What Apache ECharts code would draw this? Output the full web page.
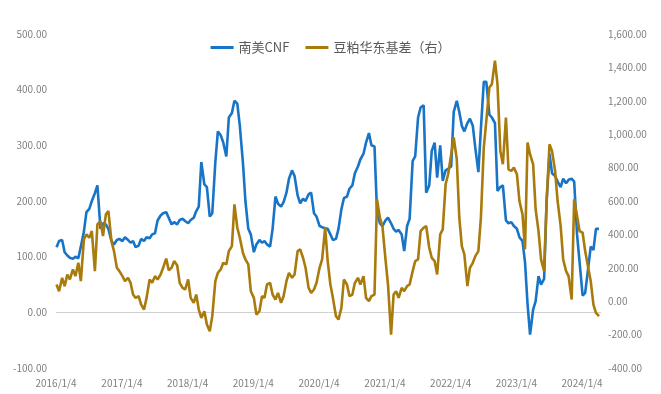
<!DOCTYPE html>
<html>
<head>
<meta charset="utf-8">
<script src="https://cdn.jsdelivr.net/npm/echarts@6/dist/echarts.min.js"></script>
<style>html,body{margin:0;padding:0;background:#fff;}#c{width:661px;height:394px;}</style>
</head>
<body>
<div id="c"></div>
<script>
var seriesNames = ['南美CNF', '豆粕华东基差（右）'];
var xTickLabels = ['2016/1/4','2017/1/4','2018/1/4','2019/1/4','2020/1/4','2021/1/4','2022/1/4','2023/1/4','2024/1/4'];
var dates = [
'2016-01-04','2016-01-18','2016-02-04','2016-02-18','2016-03-04','2016-03-18','2016-04-04','2016-04-18','2016-05-04','2016-05-18','2016-06-04','2016-06-18','2016-07-04','2016-07-18','2016-08-04','2016-08-18','2016-09-04','2016-09-18','2016-10-04','2016-10-18','2016-11-04','2016-11-18','2016-12-04','2016-12-18',
'2017-01-04','2017-01-18','2017-02-04','2017-02-18','2017-03-04','2017-03-18','2017-04-04','2017-04-18','2017-05-04','2017-05-18','2017-06-04','2017-06-18','2017-07-04','2017-07-18','2017-08-04','2017-08-18','2017-09-04','2017-09-18','2017-10-04','2017-10-18','2017-11-04','2017-11-18','2017-12-04','2017-12-18',
'2018-01-04','2018-01-18','2018-02-04','2018-02-18','2018-03-04','2018-03-18','2018-04-04','2018-04-18','2018-05-04','2018-05-18','2018-06-04','2018-06-18','2018-07-04','2018-07-18','2018-08-04','2018-08-18','2018-09-04','2018-09-18','2018-10-04','2018-10-18','2018-11-04','2018-11-18','2018-12-04','2018-12-18',
'2019-01-04','2019-01-18','2019-02-04','2019-02-18','2019-03-04','2019-03-18','2019-04-04','2019-04-18','2019-05-04','2019-05-18','2019-06-04','2019-06-18','2019-07-04','2019-07-18','2019-08-04','2019-08-18','2019-09-04','2019-09-18','2019-10-04','2019-10-18','2019-11-04','2019-11-18','2019-12-04','2019-12-18',
'2020-01-04','2020-01-18','2020-02-04','2020-02-18','2020-03-04','2020-03-18','2020-04-04','2020-04-18','2020-05-04','2020-05-18','2020-06-04','2020-06-18','2020-07-04','2020-07-18','2020-08-04','2020-08-18','2020-09-04','2020-09-18','2020-10-04','2020-10-18','2020-11-04','2020-11-18','2020-12-04','2020-12-18',
'2021-01-04','2021-01-18','2021-02-04','2021-02-18','2021-03-04','2021-03-18','2021-04-04','2021-04-18','2021-05-04','2021-05-18','2021-06-04','2021-06-18','2021-07-04','2021-07-18','2021-08-04','2021-08-18','2021-09-04','2021-09-18','2021-10-04','2021-10-18','2021-11-04','2021-11-18','2021-12-04','2021-12-18',
'2022-01-04','2022-01-18','2022-02-04','2022-02-18','2022-03-04','2022-03-18','2022-04-04','2022-04-18','2022-05-04','2022-05-18','2022-06-04','2022-06-18','2022-07-04','2022-07-18','2022-08-04','2022-08-18','2022-09-04','2022-09-18','2022-10-04','2022-10-18','2022-11-04','2022-11-18','2022-12-04','2022-12-18',
'2023-01-04','2023-01-18','2023-02-04','2023-02-18','2023-03-04','2023-03-18','2023-04-04','2023-04-18','2023-05-04','2023-05-18','2023-06-04','2023-06-18','2023-07-04','2023-07-18','2023-08-04','2023-08-18','2023-09-04','2023-09-18','2023-10-04','2023-10-18','2023-11-04','2023-11-18','2023-12-04','2023-12-18',
'2024-01-04','2024-01-18','2024-02-04','2024-02-18','2024-03-04','2024-03-18','2024-04-04'
];
var cnf = [117,128,130,108,102,98,96,100,97,118,
145,180,186,200,214,228,150,160,158,150,
128,122,130,132,128,135,130,125,128,117,
120,132,128,135,133,140,142,165,174,178,
180,170,158,162,158,166,168,164,160,166,
170,182,190,270,230,225,172,178,270,325,
318,305,280,350,358,380,375,335,270,200,
150,140,108,122,130,125,128,122,118,150,
208,195,190,198,215,240,255,245,210,196,
204,200,212,215,178,172,155,153,151,150,
140,130,132,150,185,205,208,222,228,250,
262,275,285,305,322,300,298,180,160,155,
165,170,160,150,145,148,140,110,155,168,
272,280,350,368,372,215,228,290,305,242,
300,236,255,258,262,360,380,360,335,325,
340,348,335,295,252,330,414,414,355,350,
340,218,225,228,165,160,162,155,150,135,
128,90,15,-40,5,20,65,50,60,200,
285,250,245,235,225,240,232,238,240,235,
140,90,30,35,80,118,112,150,150];
var basis = [100,60,140,90,160,130,190,150,230,120,
370,400,380,420,180,460,480,390,520,540,
360,300,200,180,150,120,140,110,40,20,
30,-20,-50,20,130,110,150,130,160,200,
255,185,200,240,215,110,80,70,130,20,
-10,40,-50,-100,-60,-140,-180,-90,120,170,
190,230,220,300,330,580,440,380,290,250,
220,60,20,-80,-60,30,20,100,110,40,
10,50,-10,30,120,170,140,160,300,310,
260,200,80,50,70,110,200,250,440,240,
100,20,-90,-110,-40,130,100,30,40,110,
140,100,150,20,0,30,40,610,500,450,
250,100,-200,40,60,20,80,60,90,100,
180,240,250,420,440,450,320,260,240,160,
400,430,700,760,880,980,850,500,330,280,
90,200,230,270,300,500,920,1080,1280,1300,
1440,1300,900,820,1100,790,780,800,760,600,
520,310,950,880,820,550,420,250,180,600,
940,900,780,600,450,250,180,150,10,610,
510,420,410,300,200,120,-20,-70,-90];

function pairs(vals) {
  var out = [];
  for (var i = 0; i < vals.length; i++) out.push([dates[i], vals[i]]);
  return out;
}
function fmtThousands(v) {
  var neg = v < 0, n = Math.abs(v);
  var s = Math.round(n).toString().replace(/\B(?=(\d{3})+(?!\d))/g, ',');
  return (neg ? '-' : '') + s + '.00';
}
var YEAR = 365 * 24 * 3600 * 1000;
var xMin = '2016-01-01', xMax = '2024-04-15';
var labelFont = { color: '#7f7f7f', fontSize: 10, fontFamily: 'Noto Sans CJK SC' };
var clear = 'rgba(0,0,0,0)';

var chart = echarts.init(document.getElementById('c'), null, { renderer: 'canvas' });
chart.setOption({
  animation: false,
  backgroundColor: '#fff',
  legend: {
    data: seriesNames,
    top: 36,
    left: 'center',
    itemWidth: 23,
    itemHeight: 3,
    itemGap: 16,
    icon: 'rect',
    textStyle: { color: '#595959', fontSize: 13, fontFamily: 'Noto Sans CJK SC' }
  },
  grid: { left: 56, right: 60, top: 34, bottom: 26, containLabel: false },
  xAxis: [{
    type: 'time', min: xMin, max: xMax,
    minInterval: YEAR, maxInterval: YEAR * 1.01,
    position: 'bottom',
    axisLine: { show: false, onZero: false },
    axisTick: { show: false },
    splitLine: { show: false },
    axisLabel: Object.assign({ margin: 10, formatter: function (val) {
      var y = new Date(val).getFullYear();
      return xTickLabels[y - 2016] || '';
    } }, labelFont)
  }],
  yAxis: [{
    type: 'value', min: -100, max: 500, interval: 100, position: 'left',
    axisLine: { show: false }, axisTick: { show: false },
    splitLine: { show: true, lineStyle: { width: 1, color: [clear, '#d0d0d0', clear, clear, clear, clear, clear] } },
    axisLabel: Object.assign({ margin: 9, formatter: function (v) { return v.toFixed(2); } }, labelFont)
  }, {
    type: 'value', min: -400, max: 1600, interval: 200, position: 'right',
    axisLine: { show: false }, axisTick: { show: false }, splitLine: { show: false },
    axisLabel: Object.assign({ margin: 7, formatter: fmtThousands }, labelFont)
  }],
  series: [{
    name: seriesNames[0], type: 'line', xAxisIndex: 0, yAxisIndex: 0,
    data: pairs(cnf), showSymbol: false, symbol: 'none',
    lineStyle: { color: '#1874c6', width: 2.6 }, itemStyle: { color: '#1874c6' }
  }, {
    name: seriesNames[1], type: 'line', xAxisIndex: 0, yAxisIndex: 1,
    data: pairs(basis), showSymbol: false, symbol: 'none',
    lineStyle: { color: '#a97a0c', width: 2.6 }, itemStyle: { color: '#a97a0c' }
  }]
});
</script>
</body>
</html>
